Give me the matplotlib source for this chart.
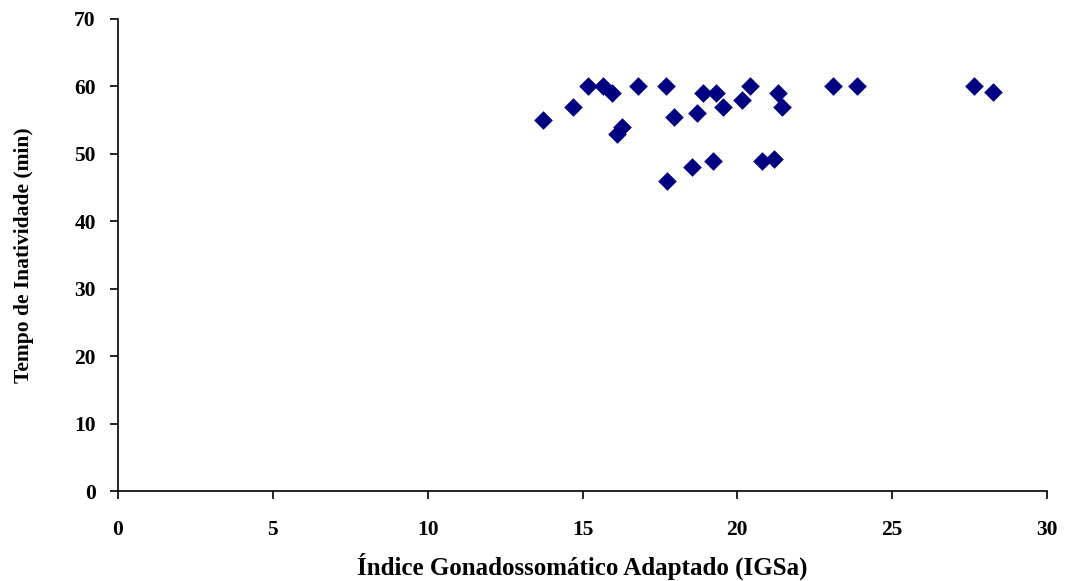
import matplotlib
matplotlib.use("Agg")
import matplotlib.pyplot as plt

# IGSa vs tempo de inatividade
igsa = [13.71, 14.70, 15.18, 15.65, 15.95, 16.26, 16.10, 16.80, 17.68, 17.96,
        18.71, 18.88, 19.31, 19.54, 20.14, 20.40, 21.32, 21.45, 17.74, 18.54,
        19.22, 20.79, 21.18, 23.08, 23.87, 27.64, 28.26]
tempo = [55, 57, 60, 60, 59, 54, 53, 60, 60, 55.5,
         56, 59, 59, 57, 58, 60, 59, 57, 46, 48,
         49, 49, 49.2, 60, 60, 60, 59.1]

plt.rcParams["font.family"] = ["Liberation Serif", "DejaVu Serif"]
plt.rcParams["font.weight"] = "bold"

fig = plt.figure(figsize=(10.67, 5.81), dpi=100)
ax = fig.add_axes([0.1106, 0.1549, 0.8707, 0.8124])
ax.scatter(igsa, tempo, marker="D", s=90, color="#000080", linewidths=0, zorder=3)

ax.set_xlim(0, 30)
ax.set_ylim(0, 70)
ax.set_xticks(range(0, 31, 5))
ax.set_yticks(range(0, 71, 10))
for s in ("top", "right"):
    ax.spines[s].set_visible(False)
for s in ("left", "bottom"):
    ax.spines[s].set_linewidth(1.2)
ax.tick_params(axis="x", direction="out", length=6, width=1.2, pad=15, labelsize=15.5)
ax.tick_params(axis="y", direction="out", length=6, width=1.2, pad=10, labelsize=15.5)
for lab in ax.get_xticklabels() + ax.get_yticklabels():
    lab.set_fontweight("bold")

ax.set_xlabel("Índice Gonadossomático Adaptado (IGSa)", fontsize=18, fontweight="bold", labelpad=9)
ax.set_ylabel("Tempo de Inatividade (min)", fontsize=15.5, fontweight="bold", labelpad=29)

fig.savefig("out.png", facecolor="white")
